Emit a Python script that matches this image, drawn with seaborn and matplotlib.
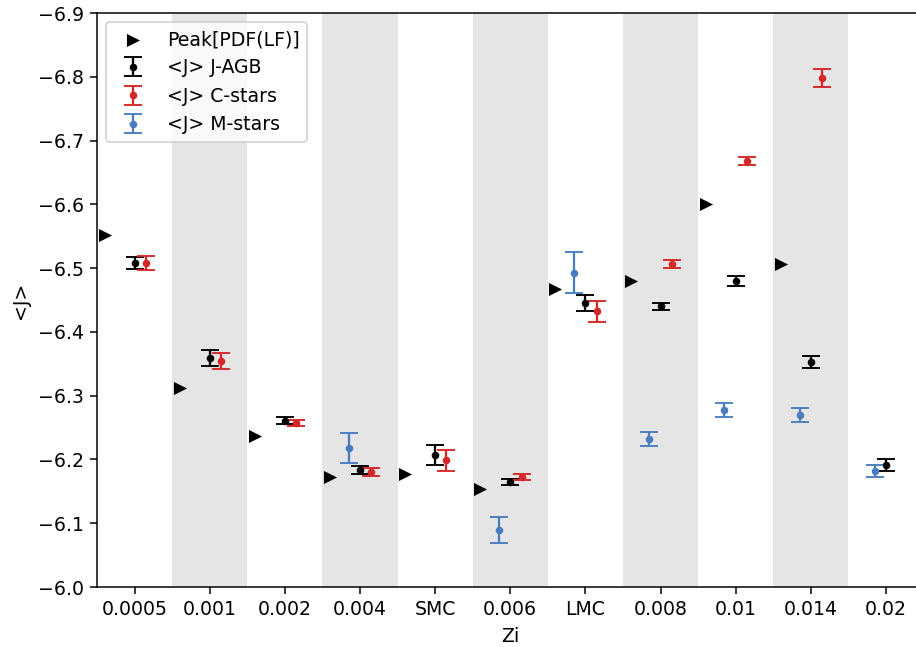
import matplotlib
import numpy as np

matplotlib.use("Agg")

import matplotlib.pyplot as plt
import seaborn as sns

# Metallicity bins along the x axis (categorical).
zi_labels = ["0.0005", "0.001", "0.002", "0.004", "SMC", "0.006",
             "LMC", "0.008", "0.01", "0.014", "0.02"]

# Peak of the luminosity-function PDF (no value for Z=0.02).
peak = [-6.552, -6.312, -6.237, -6.173, -6.177, -6.153,
        -6.468, -6.480, -6.600, -6.506, np.nan]

# Mean J magnitude and its error for each population.
j_agb = [-6.508, -6.359, -6.261, -6.183, -6.207, -6.165,
         -6.445, -6.440, -6.480, -6.353, -6.191]
j_agb_err = [0.009, 0.012, 0.005, 0.006, 0.016, 0.005,
             0.013, 0.006, 0.008, 0.010, 0.0097]

c_stars = [-6.508, -6.355, -6.257, -6.180, -6.199, -6.173,
           -6.432, -6.506, -6.668, -6.798, np.nan]
c_stars_err = [0.0105, 0.0125, 0.005, 0.006, 0.0165, 0.0047,
               0.0165, 0.006, 0.006, 0.0136, np.nan]

m_stars = [np.nan, np.nan, np.nan, -6.218, np.nan, -6.090,
           -6.493, -6.232, -6.278, -6.269, -6.182]
m_stars_err = [np.nan, np.nan, np.nan, 0.0235, np.nan, 0.0204,
               0.032, 0.011, 0.0107, 0.011, 0.009]

DPI = 136


def main() -> None:
    x = np.arange(len(zi_labels))

    fig = plt.figure(figsize=(916 / DPI, 647 / DPI), dpi=DPI)
    # The right edge of the axes sits just past the figure edge, as in the original crop.
    ax = fig.add_axes([0.1059, 0.0927, 0.9024, 0.8872])

    # Alternate grey bands behind every other bin.
    for i in range(1, len(zi_labels), 2):
        ax.axvspan(i - 0.5, i + 0.5, color="#e5e5e5", lw=0, zorder=0)

    sns.scatterplot(x=x - 0.4, y=peak, marker=">", color="black", s=48,
                    linewidth=0, label="Peak[PDF(LF)]", ax=ax, zorder=3)

    err_kw = dict(fmt=".", capsize=5, elinewidth=1.2, zorder=3)
    ax.errorbar(x, j_agb, yerr=j_agb_err, color="black",
                label="<J> J-AGB", **err_kw)
    ax.errorbar(x + 0.15, c_stars, yerr=c_stars_err, color="#d62728",
                label="<J> C-stars", **err_kw)
    ax.errorbar(x - 0.15, m_stars, yerr=m_stars_err, color="#4a7dc0",
                label="<J> M-stars", **err_kw)

    ax.set_xlim(-0.5, 10.5)
    ax.set_ylim(-6.0, -6.9)
    ax.set_yticks(np.arange(-6.0, -6.95, -0.1))
    ax.set_xticks(x)
    ax.set_xticklabels(zi_labels)
    ax.set_xlabel("Zi")
    ax.set_ylabel("<J>")
    ax.legend(loc="upper left")

    fig.savefig("out.png", dpi=DPI)
    plt.close(fig)


if __name__ == "__main__":
    main()
